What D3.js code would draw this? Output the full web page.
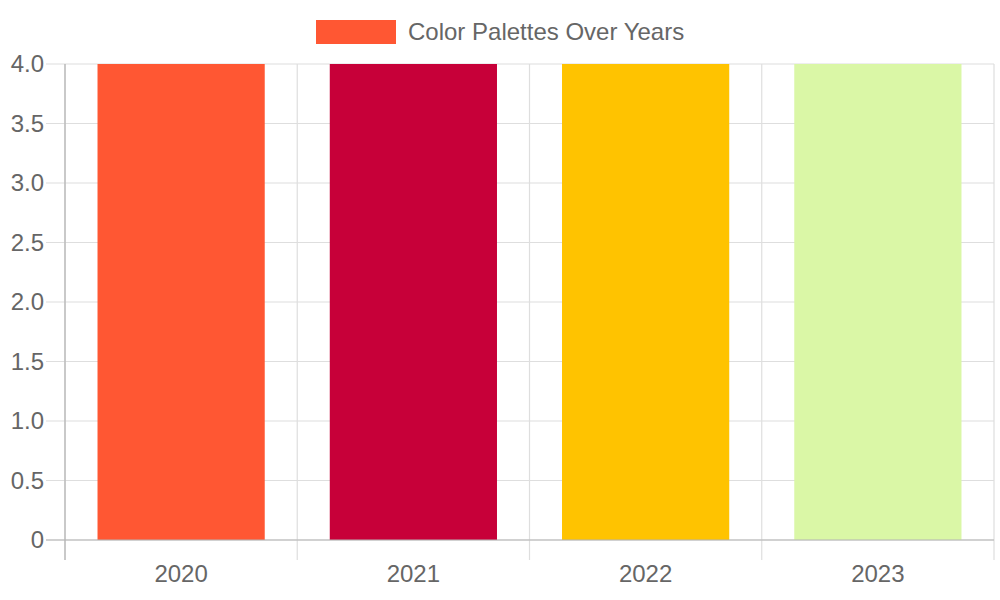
<!DOCTYPE html>
<html>
<head>
<meta charset="utf-8">
<script src="https://cdn.jsdelivr.net/npm/d3@7"></script>
<style>
  html, body { margin: 0; padding: 0; background: #fff; }
  text { font-family: "Liberation Sans", Arial, Helvetica, sans-serif; fill: #666; }
</style>
</head>
<body>
<div id="chart"></div>
<script>
var years = ['2020', '2021', '2022', '2023'];
var values = [4, 4, 4, 4];
var barColors = ['#FF5733', '#C70039', '#FFC300', '#DAF7A6'];
var yTicks = [0, 0.5, 1, 1.5, 2, 2.5, 3, 3.5, 4];
var yTickLabels = ['0', '0.5', '1.0', '1.5', '2.0', '2.5', '3.0', '3.5', '4.0'];
var legendLabel = 'Color Palettes Over Years';

// set the dimensions and margins of the graph
var margin = { top : 64, right : 6, bottom : 60, left : 65 };
var width = 1000 - margin.left - margin.right;
var height = 600 - margin.top - margin.bottom;

var x = d3.scaleBand().domain(years).range([ 0, width ]).padding(0);
var y = d3.scaleLinear().domain([ 0, 4 ]).range([ height, 0 ]);

var svg = d3.select("#chart").append("svg")
	.attr("width", 1000).attr("height", 600);
var g = svg.append("g")
	.attr("transform", "translate(" + margin.left + "," + margin.top + ")");

// horizontal grid lines (with tick marks to the left)
g.selectAll(".hgrid").data(yTicks).enter().append("line")
	.attr("x1", -19).attr("x2", width)
	.attr("y1", function(d) { return y(d); })
	.attr("y2", function(d) { return y(d); })
	.attr("stroke", "#dedede").attr("stroke-width", 1.2);

// vertical grid lines (category boundaries), extend below the axis
var bounds = years.map(function(d) { return x(d); }).concat([ width ]);
g.selectAll(".vgrid").data(bounds).enter().append("line")
	.attr("x1", function(d) { return d; })
	.attr("x2", function(d) { return d; })
	.attr("y1", 0).attr("y2", height + 20)
	.attr("stroke", "#dedede").attr("stroke-width", 1.2);

// bars
var barW = x.bandwidth() * 0.72;
g.selectAll(".bar").data(values).enter().append("rect")
	.attr("x", function(d, i) { return x(years[i]) + (x.bandwidth() - barW) / 2; })
	.attr("width", barW)
	.attr("y", function(d) { return y(d); })
	.attr("height", function(d) { return height - y(d); })
	.attr("fill", function(d, i) { return barColors[i]; });

// axis lines
g.append("line").attr("x1", 0).attr("x2", 0).attr("y1", 0).attr("y2", height + 20)
	.attr("stroke", "#b3b3b3").attr("stroke-width", 1.2);
g.append("line").attr("x1", -19).attr("x2", width).attr("y1", height).attr("y2", height)
	.attr("stroke", "#b3b3b3").attr("stroke-width", 1.2);

// y tick labels
g.selectAll(".ylab").data(yTicks).enter().append("text")
	.attr("x", -21)
	.attr("y", function(d) { return y(d); })
	.attr("dy", "0.35em")
	.attr("text-anchor", "end")
	.style("font-size", "24px")
	.text(function(d, i) { return yTickLabels[i]; });

// x tick labels
g.selectAll(".xlab").data(years).enter().append("text")
	.attr("x", function(d) { return x(d) + x.bandwidth() / 2; })
	.attr("y", height + 34)
	.attr("dy", "0.35em")
	.attr("text-anchor", "middle")
	.style("font-size", "24px")
	.text(function(d) { return d; });

// legend
svg.append("rect").attr("x", 316).attr("y", 20).attr("width", 80).attr("height", 24)
	.attr("fill", barColors[0]);
svg.append("text").attr("x", 408).attr("y", 32).attr("dy", "0.35em")
	.style("font-size", "24px")
	.text(legendLabel);
</script>
</body>
</html>
